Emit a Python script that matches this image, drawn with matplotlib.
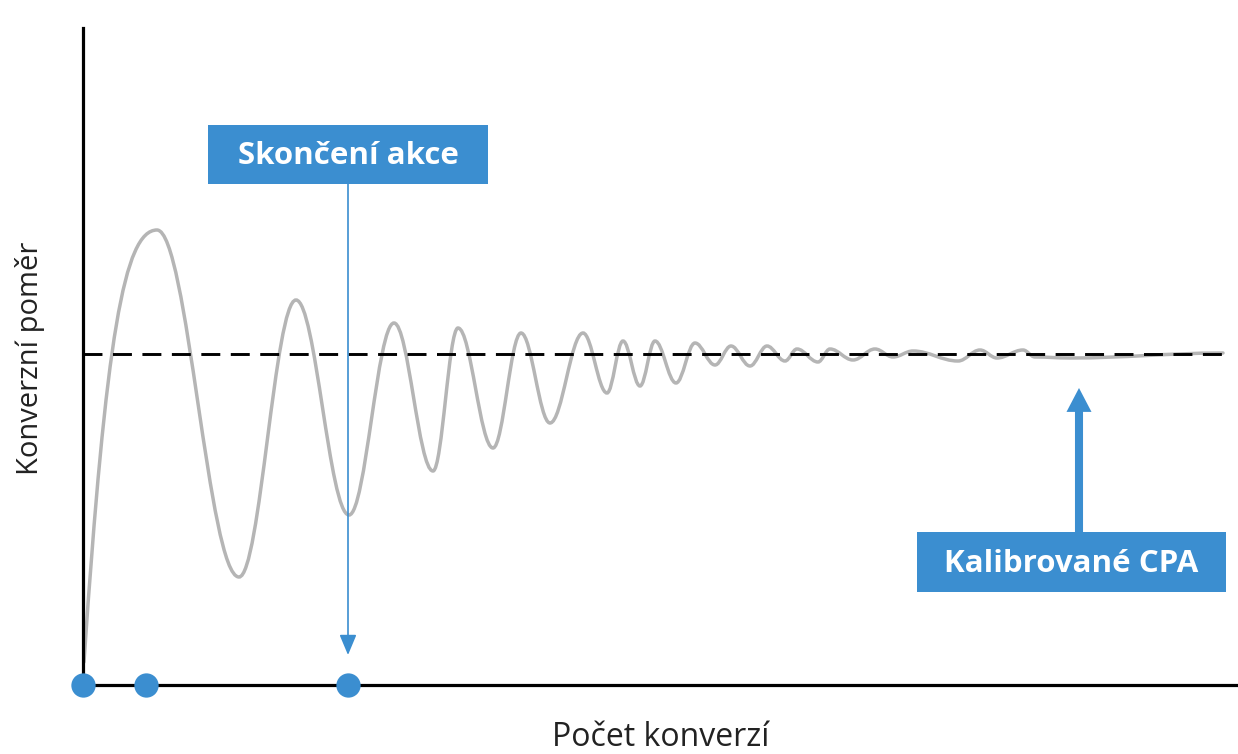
import matplotlib
matplotlib.use("Agg")
import matplotlib.pyplot as plt
from matplotlib.path import Path
from matplotlib.patches import PathPatch, Rectangle

# values (x = conversions, y = conversion rate, arbitrary units)
start_point = (1, 23)
extrema_x = [74, 156, 213, 266, 311, 350, 375, 410, 438, 467, 500, 524, 540, 557, 572,
             593, 612, 632, 648, 667, 684, 702, 714, 735, 747, 770, 792, 810, 830,
             875, 897, 914, 940, 952, 987, 1140]
extrema_y = [455, 108, 385, 170, 362, 214, 357, 237, 352, 262, 352, 292, 344, 299, 344,
             302, 342, 320, 339, 319, 339, 324, 336, 323, 336, 325, 336, 328, 334,
             324, 335, 327, 335, 328, 327, 332]
target_rate = 331
highlight_x = [0, 63, 265]
campaign_end_x = 265
calibrated_x = 996

BLUE = "#3b8ed0"
GRAY = "#b5b5b5"

plt.rcParams['font.family'] = ['Open Sans', 'DejaVu Sans']

fig = plt.figure(figsize=(12.38, 7.54), dpi=100)
ax = fig.add_axes([83 / 1238, 69 / 754, 1155 / 1238, 657 / 754])
ax.set_xlim(0, 1155)
ax.set_ylim(0, 657)

# smooth damped curve through the extrema (horizontal tangents at each extremum)
verts = [start_point]
codes = [Path.MOVETO]
x0, y0 = start_point
x1, y1 = extrema_x[0], extrema_y[0]
verts += [(x0 + 0.3 * (x1 - x0), y0 + 0.75 * (y1 - y0)), (x1 - 0.45 * (x1 - x0), y1), (x1, y1)]
codes += [Path.CURVE4] * 3
for i in range(1, len(extrema_x)):
    xa, ya = extrema_x[i - 1], extrema_y[i - 1]
    xb, yb = extrema_x[i], extrema_y[i]
    k = 0.37 * (xb - xa)
    verts += [(xa + k, ya), (xb - k, yb), (xb, yb)]
    codes += [Path.CURVE4] * 3
ax.add_patch(PathPatch(Path(verts, codes), fill=False, edgecolor=GRAY, lw=2.5,
                       capstyle='round', zorder=2))

# target (dashed) line
ax.plot([0, 1142], [target_rate, target_rate], color='black', lw=2.1,
        dashes=(6.5, 3.6), zorder=3)

# axes
for s in ['top', 'right']:
    ax.spines[s].set_visible(False)
ax.spines['left'].set_linewidth(2.3)
ax.spines['bottom'].set_linewidth(2.3)
ax.set_xticks([])
ax.set_yticks([])

# highlight dots on the x axis
ax.plot(highlight_x, [0] * len(highlight_x), 'o', color=BLUE, ms=17.5, mec='none',
        clip_on=False, zorder=6)

# "Skončení akce" marker
ax.annotate('', xy=(campaign_end_x, 30), xytext=(campaign_end_x, 501),
            arrowprops=dict(arrowstyle='-|>,head_length=0.62,head_width=0.26',
                            color=BLUE, lw=1.2, shrinkA=0, shrinkB=0,
                            mutation_scale=20),
            zorder=4)
ax.add_patch(Rectangle((125, 501), 280, 59, facecolor=BLUE, edgecolor='none',
                       clip_on=False, zorder=5))
ax.text(265, 529, 'Skončení akce', color='white', fontsize=22.5, fontweight='bold',
        ha='center', va='center', zorder=6)

# "Kalibrované CPA" marker
ax.annotate('', xy=(calibrated_x, 297), xytext=(calibrated_x, 153),
            arrowprops=dict(arrowstyle='simple,head_length=0.86,head_width=0.9,tail_width=0.29',
                            fc=BLUE, ec='none', shrinkA=0, shrinkB=0,
                            mutation_scale=20),
            zorder=4)
ax.add_patch(Rectangle((834, 93), 309, 60, facecolor=BLUE, edgecolor='none',
                       clip_on=False, zorder=5))
ax.text(988.5, 121, 'Kalibrované CPA', color='white', fontsize=22.5, fontweight='bold',
        ha='center', va='center', zorder=6)

# axis labels
fig.text(30 / 1238, 1 - 358 / 754, 'Konverzní poměr', rotation=90, fontsize=21,
         ha='center', va='center', color='#222222')
fig.text(661 / 1238, 1 - 737 / 754, 'Počet konverzí', fontsize=23,
         ha='center', va='center', color='#222222')

fig.savefig('out.png', dpi=100, facecolor='white')
